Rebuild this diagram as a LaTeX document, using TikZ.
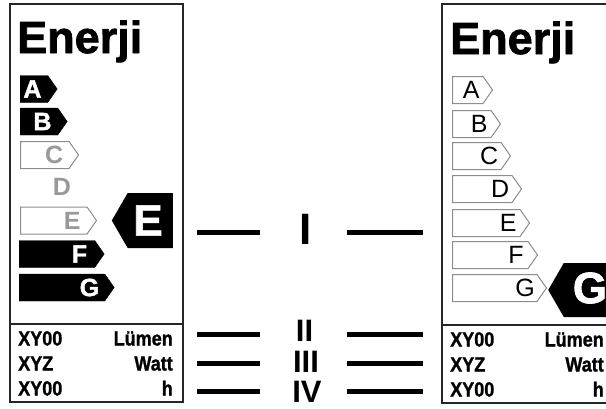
\documentclass[tikz,border=0pt]{standalone}
\usepackage{fontspec}
\setmainfont{Liberation Sans}
\newfontfamily\heavyfont{Liberation Sans Bold}[FakeBold=1.6]
\newfontfamily\datafont{Liberation Sans Bold}[FakeBold=1.2,FakeStretch=0.88]
\usetikzlibrary{shapes.symbols,positioning}

\begin{document}
\begin{tikzpicture}[x=1pt,y=-1pt]
  \tikzstyle{frame}=[draw=black!85,line width=1.8pt]
  \tikzstyle{classbar}=[signal,signal to=east,signal pointer angle=110,minimum height=27pt,inner sep=0pt,anchor=west]
  \tikzstyle{fullbar}=[classbar,fill=black,draw=black]
  \tikzstyle{emptybar}=[classbar,fill=white,draw=black!45,line width=1pt]
  \tikzstyle{darkletter}=[text=white,font=\heavyfont\fontsize{25}{25}\selectfont,inner sep=0pt]
  \tikzstyle{ghostletter}=[text=black!40,font=\bfseries\fontsize{25}{25}\selectfont,inner sep=0pt]
  \tikzstyle{plainletter}=[text=black,font=\fontsize{25}{25}\selectfont,inner sep=0pt]
  \tikzstyle{indicator}=[signal,signal to=west,signal pointer angle=120,fill=black,inner sep=0pt]
  \tikzstyle{bigletter}=[text=white,font=\heavyfont\fontsize{44}{44}\selectfont,inner sep=0pt]
  \tikzstyle{title}=[font=\heavyfont\fontsize{45}{45}\selectfont,inner sep=0pt,anchor=base west]
  \tikzstyle{datatext}=[font=\datafont\fontsize{20.5}{20.5}\selectfont,inner sep=0pt]
  \tikzstyle{numeral}=[font=\bfseries\fontsize{31}{31}\selectfont,inner sep=0pt]
  \tikzstyle{dash line}=[line width=5pt]
  \useasboundingbox (0,0) rectangle (606,408);

  % left label
  \draw[frame] (10,4) rectangle (183,402);
  \draw[frame] (10,324) -- (183,324);
  \node[title] (titleL) at (17,53) {Enerji};
  \node[fullbar,minimum width=37pt] (barLA) at (20,89) {};
  \node[fullbar,minimum width=47pt] (barLB) at (20,121.5) {};
  \node[emptybar,minimum width=58pt] (barLC) at (20,155) {};
  \node[emptybar,minimum width=76pt] (barLE) at (20,220.5) {};
  \node[fullbar,minimum width=85pt] (barLF) at (19,254) {};
  \node[fullbar,minimum width=95pt] (barLG) at (19,287.5) {};
  \node[darkletter] (letLA) at ([xshift=-25pt]barLA.east) {A};
  \node[darkletter] (letLB) at ([xshift=-25pt]barLB.east) {B};
  \node[ghostletter] (letLC) at ([xshift=-25pt]barLC.east) {C};
  \node[ghostletter] (letLD) at (62,187) {D};
  \node[ghostletter] (letLE) at ([xshift=-25pt]barLE.east) {E};
  \node[darkletter] (letLF) at ([xshift=-25pt]barLF.east) {F};
  \node[darkletter] (letLG) at ([xshift=-25pt]barLG.east) {G};
  \node[indicator,minimum width=61pt,minimum height=55pt,anchor=east] (indL) at (173,220.5) {};
  \node[bigletter] (indLtext) at (148,220.5) {E};
  \node[datatext,anchor=base west] (qtyL1) at (18,345.5) {XY00};
  \node[datatext,anchor=base west] (qtyL2) at (18,370.5) {XYZ};
  \node[datatext,anchor=base west] (qtyL3) at (18,395.5) {XY00};
  \node[datatext,anchor=base east] (unitL1) at (173,345.5) {Lümen};
  \node[datatext,anchor=base east] (unitL2) at (173,370.5) {Watt};
  \node[datatext,anchor=base east] (unitL3) at (173,395.5) {h};

  % right label
  \draw[frame] (442,4) rectangle (616,403);
  \draw[frame] (442,325) -- (616,325);
  \node[title] (titleR) at (450,54) {Enerji};
  \node[emptybar,minimum width=40pt] (barRA) at (452,90) {};
  \node[emptybar,minimum width=48pt] (barRB) at (452,124) {};
  \node[emptybar,minimum width=58pt] (barRC) at (452,156) {};
  \node[emptybar,minimum width=69pt] (barRD) at (452,189) {};
  \node[emptybar,minimum width=77pt] (barRE) at (452,223) {};
  \node[emptybar,minimum width=85pt] (barRF) at (452,255) {};
  \node[emptybar,minimum width=94pt] (barRG) at (452,288) {};
  \node[plainletter] (letRA) at ([xshift=-22pt]barRA.east) {A};
  \node[plainletter] (letRB) at ([xshift=-22pt]barRB.east) {B};
  \node[plainletter] (letRC) at ([xshift=-22pt]barRC.east) {C};
  \node[plainletter] (letRD) at ([xshift=-22pt]barRD.east) {D};
  \node[plainletter] (letRE) at ([xshift=-22pt]barRE.east) {E};
  \node[plainletter] (letRF) at ([xshift=-22pt]barRF.east) {F};
  \node[plainletter] (letRG) at ([xshift=-22pt]barRG.east) {G};
  \node[indicator,minimum width=70pt,minimum height=54pt,anchor=west] (indR) at (548,290) {};
  \node[bigletter] (indRtext) at (590,288) {G};
  \node[datatext,anchor=base west] (qtyR1) at (450,346.5) {XY00};
  \node[datatext,anchor=base west] (qtyR2) at (450,371.5) {XYZ};
  \node[datatext,anchor=base west] (qtyR3) at (450,396.5) {XY00};
  \node[datatext,anchor=base east] (unitR1) at (604,346.5) {Lümen};
  \node[datatext,anchor=base east] (unitR2) at (604,371.5) {Watt};
  \node[datatext,anchor=base east] (unitR3) at (604,396.5) {h};

  % numerals with dashes
  \node[numeral,font=\bfseries\fontsize{44}{44}\selectfont] (numI) at (306,229) {I};
  \node[numeral] (numII) at (304.5,331) {II};
  \node[numeral] (numIII) at (306,362) {III};
  \node[numeral] (numIV) at (307,391.5) {IV};
  \foreach \yy in {232,334,363,391} {
    \draw[dash line] (197,\yy) -- (260,\yy);
    \draw[dash line] (347,\yy) -- (423,\yy);
  }
\end{tikzpicture}
\end{document}
